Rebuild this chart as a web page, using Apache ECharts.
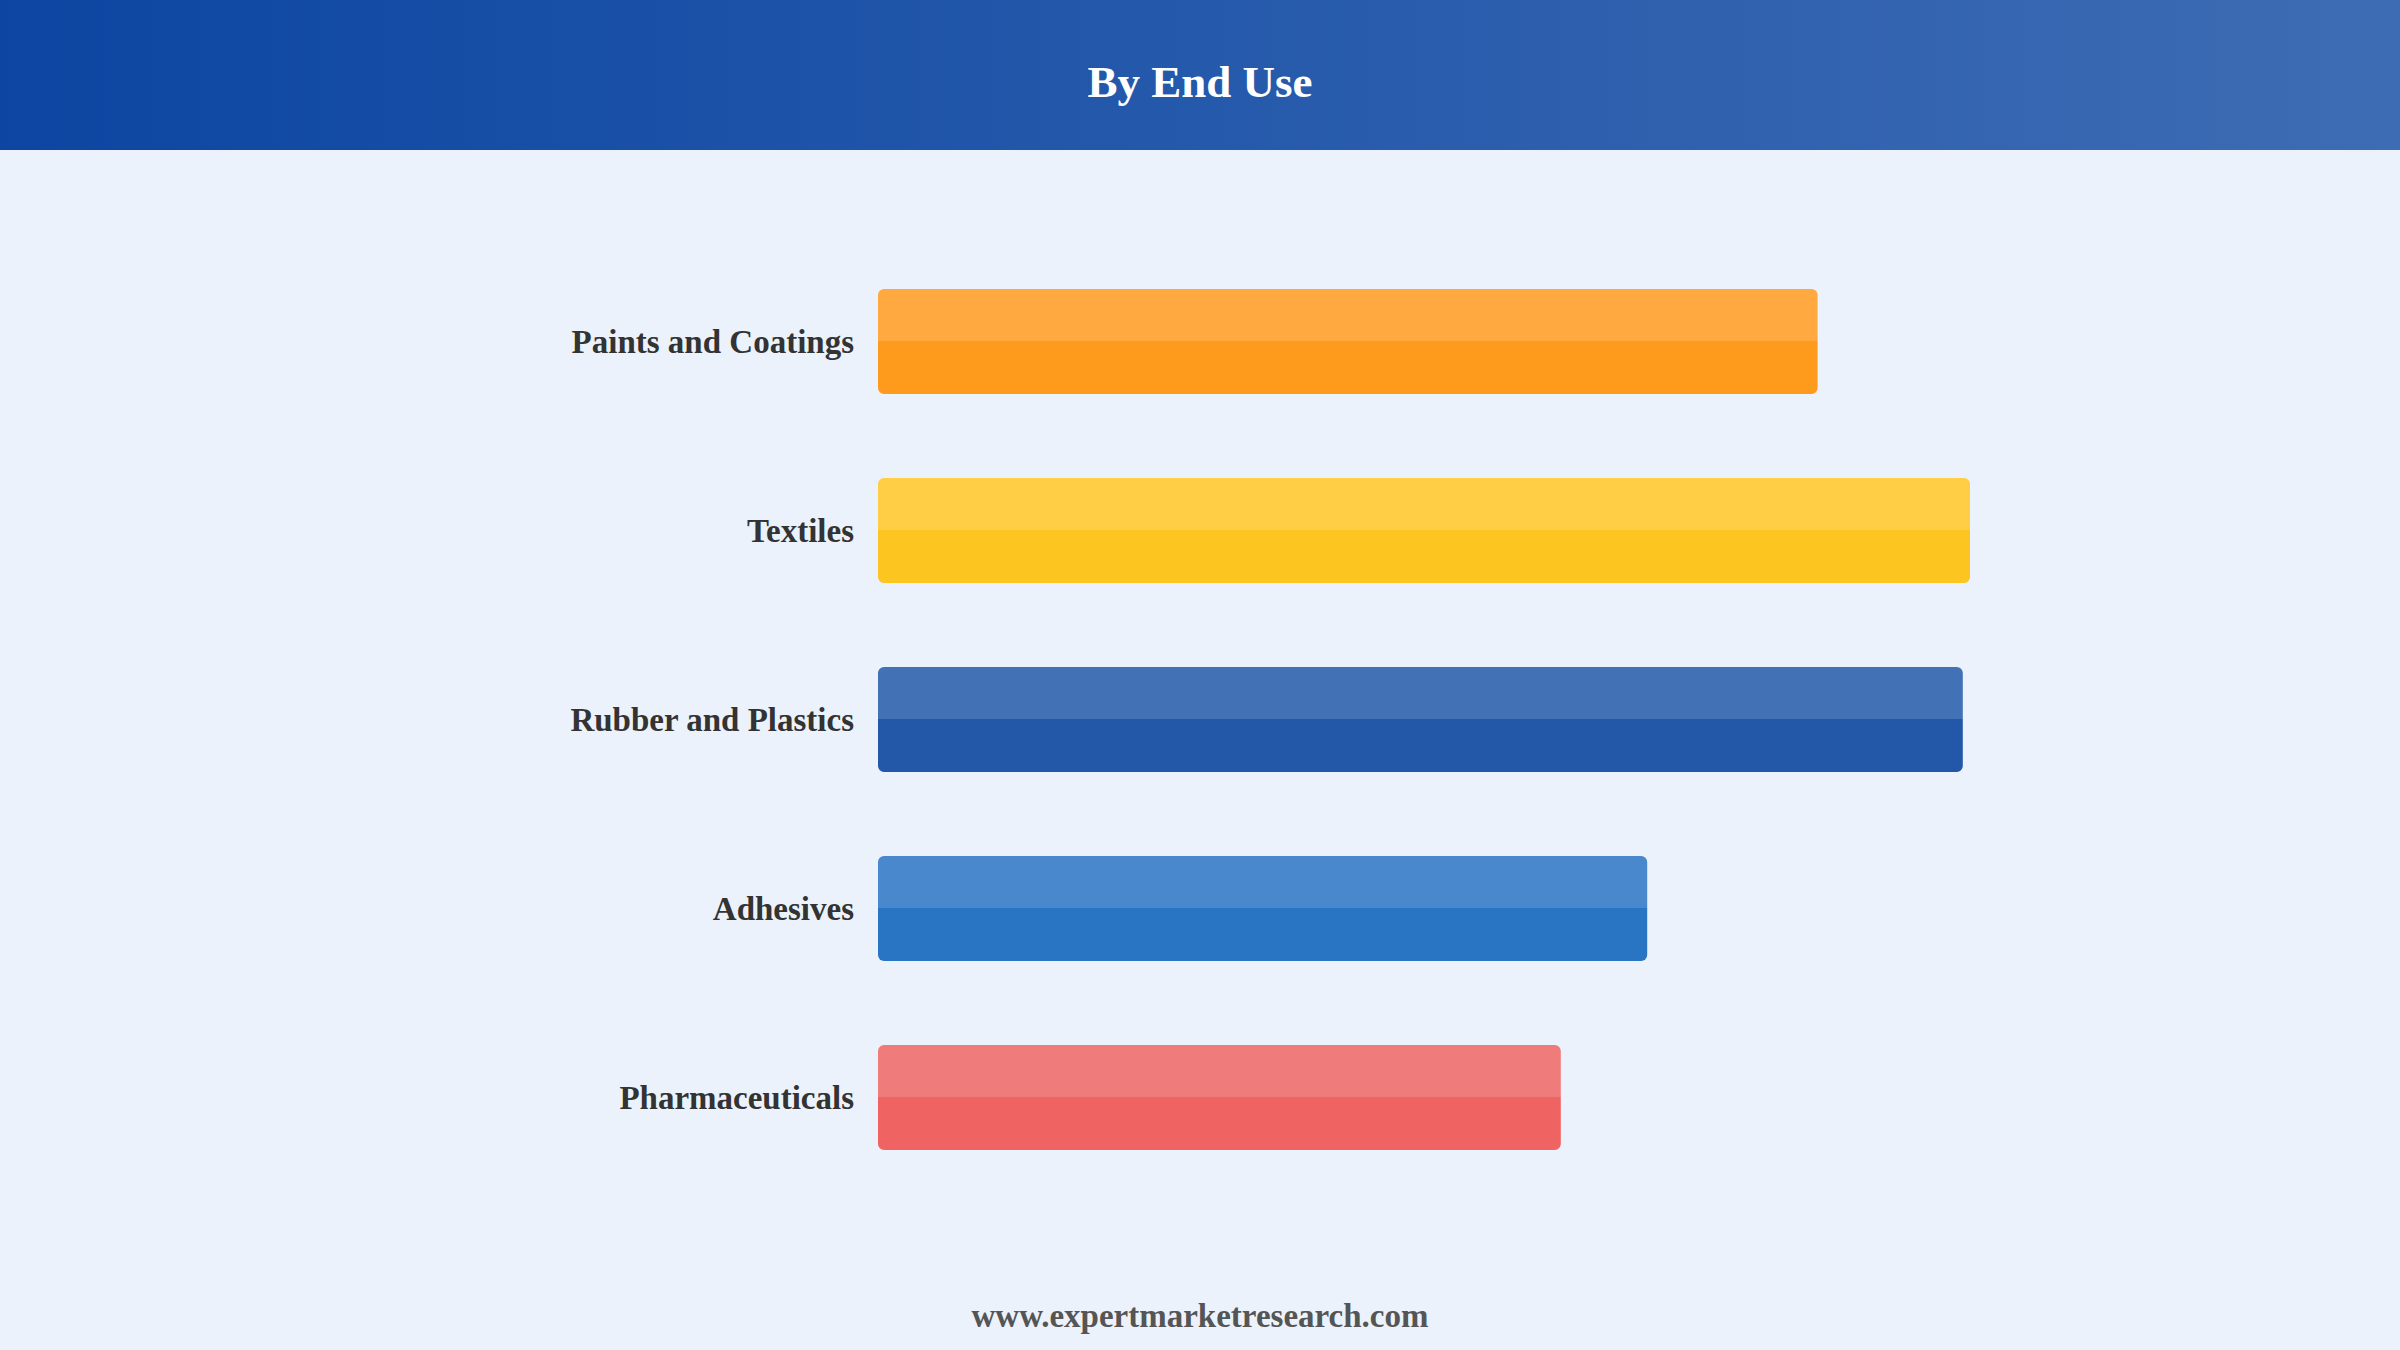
<!DOCTYPE html>
<html>
<head>
<meta charset="utf-8">
<script src="https://cdn.jsdelivr.net/npm/echarts@6/dist/echarts.min.js"></script>
<style>
  html, body { margin: 0; padding: 0; background: #EBF2FB; }
  #chart { width: 2400px; height: 1350px; }
</style>
</head>
<body>
<div id="chart"></div>
<script>
const categories = ['Paints and Coatings', 'Textiles', 'Rubber and Plastics', 'Adhesives', 'Pharmaceuticals'];
const values = [78.3, 91.0, 90.4, 64.1, 56.9];
const topColors = ['#FFA940', '#FFCE45', '#4272B5', '#4A88CD', '#F07B7B'];
const bottomColors = ['#FF9B1C', '#FCC520', '#2358A9', '#2A74C4', '#EF6462'];
const titleText = 'By End Use';
const footerText = 'www.expertmarketresearch.com';

const chart = echarts.init(document.getElementById('chart'), null, { renderer: 'svg' });
const serif = '"Liberation Serif", "Times New Roman", serif';

const barData = values.map((v, i) => ({
  value: v,
  itemStyle: {
    color: new echarts.graphic.LinearGradient(0, 0, 0, 1, [
      { offset: 0, color: topColors[i] },
      { offset: 0.5, color: topColors[i] },
      { offset: 0.5, color: bottomColors[i] },
      { offset: 1, color: bottomColors[i] }
    ])
  }
}));

chart.setOption({
  backgroundColor: '#EBF2FB',
  animation: false,
  graphic: [
    {
      type: 'rect',
      left: 0, top: 0, z: -1,
      shape: { width: 2400, height: 150 },
      style: {
        fill: new echarts.graphic.LinearGradient(0, 0, 1, 0, [
          { offset: 0, color: '#0C46A2' },
          { offset: 1, color: '#3E6CB4' }
        ])
      }
    },
    {
      type: 'text',
      x: 1200, y: 82,
      style: {
        text: titleText,
        fill: '#FFFFFF',
        font: 'bold 45px ' + serif,
        textAlign: 'center',
        textVerticalAlign: 'middle'
      }
    },
    {
      type: 'text',
      x: 1200, y: 1316,
      style: {
        text: footerText,
        fill: '#555555',
        font: 'bold 33px ' + serif,
        textAlign: 'center',
        textVerticalAlign: 'middle'
      }
    }
  ],
  grid: { left: 878, right: 322, top: 247, bottom: 158, containLabel: false },
  xAxis: {
    type: 'value', min: 0, max: 100,
    show: false
  },
  yAxis: {
    type: 'category',
    data: categories,
    inverse: true,
    axisLine: { show: false },
    axisTick: { show: false },
    splitLine: { show: false },
    axisLabel: {
      margin: 24,
      color: '#333333',
      fontFamily: serif,
      fontWeight: 'bold',
      fontSize: 33,
      padding: [6, 0, 0, 0]
    }
  },
  series: [{
    type: 'bar',
    data: barData,
    barWidth: 105,
    itemStyle: { borderRadius: 6 }
  }]
});
</script>
</body>
</html>
